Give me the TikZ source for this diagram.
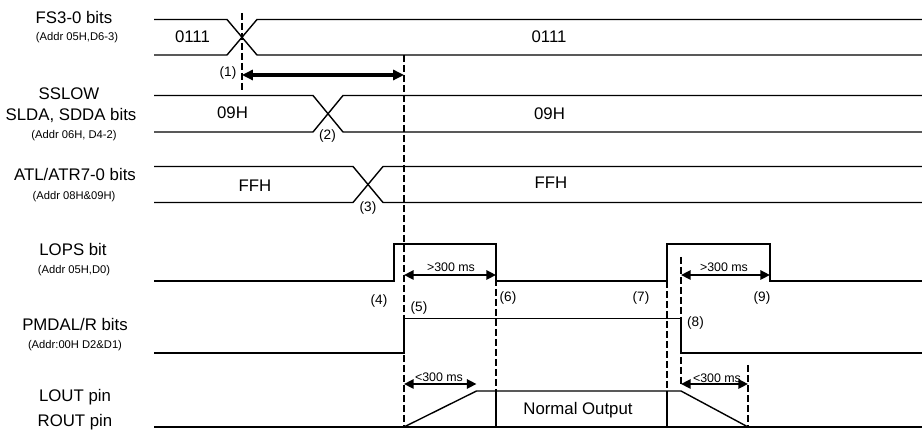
\documentclass[tikz,border=0pt]{standalone}
\usepackage{fontspec}
\setmainfont{Liberation Sans}
\usetikzlibrary{arrows.meta}
\tikzset{
    sig/.style={line width=0.7pt},
    marker/.style={line width=1.1pt, dash pattern=on 3.5pt off 1.5pt},
    span/.style={line width=1.1pt, {Triangle[length=4.8pt,width=4.6pt]}-{Triangle[length=4.8pt,width=4.6pt]}},
    signame/.style={font=\fontsize{8.4}{9}\selectfont, inner sep=0pt},
    addr/.style={font=\fontsize{5.6}{6}\selectfont, inner sep=0pt},
    num/.style={font=\fontsize{6.8}{7}\selectfont, inner sep=0pt},
    mslabel/.style={font=\fontsize{6.2}{7}\selectfont, inner sep=0pt}
}
\begin{document}
    \begin{tikzpicture}[x=0.5pt, y=-0.5pt]
        \useasboundingbox (0,0) rectangle (922,431);
        \foreach \yt/\yb/\xc in {19.5/55/242, 95.5/132/328, 166.5/202.5/368}{%
            \draw[sig] (154,\yt) -- (\xc-15,\yt) -- (\xc+15,\yb) -- (922,\yb);%
            \draw[sig] (154,\yb) -- (\xc-15,\yb) -- (\xc+15,\yt) -- (922,\yt);%
        }
        \draw[sig] (154,281) -| (394,244) -| (496,281) -| (667,244) -| (770,281) -- (922,281);
        \draw[sig] (154,353) -| (404,318.5) -| (681,353) -- (922,353);
        \draw[sig] (154,427) -- (922,427);
        \draw[sig] (404,427) -- (476.5,391) -- (681,391) -- (748,427);
        \draw[sig] (496,391) -- (496,427);
        \draw[sig] (667,391) -- (667,427);
        \draw[marker] (242,13) -- (242,92);
        \draw[marker] (404,55) -- (404,427);
        \draw[marker] (496,279) -- (496,391);
        \draw[marker] (667,281) -- (667,391);
        \draw[marker] (681,257) -- (681,386);
        \draw[marker] (748,365) -- (748,427);
        \coordinate (fschg) at (242,75);
        \coordinate (lopsup) at (404,75);
        \coordinate (ondel) at (404,275);
        \coordinate (lopsdn) at (496,275);
        \coordinate (offdel) at (681,275);
        \coordinate (lopsdn2) at (770,275);
        \coordinate (rampup) at (404,384);
        \coordinate (rampupend) at (476.5,384);
        \coordinate (rampdn) at (681,384);
        \coordinate (rampdnend) at (748,384);
        \draw[span, line width=1.6pt, {Triangle[length=5.4pt,width=5pt]}-{Triangle[length=5.4pt,width=5pt]}] (fschg) -- (lopsup);
        \draw[span] (ondel) -- (lopsdn);
        \draw[span] (offdel) -- (lopsdn2);
        \draw[span] (rampup) -- (rampupend);
        \draw[span] (rampdn) -- (rampdnend);
        \node[signame, anchor=base] (fsname) at (74,24) {FS3-0 bits};
        \node[addr, anchor=base] (fsaddr) at (77,41) {(Addr 05H,D6-3)};
        \node[signame, anchor=base] (sslow) at (69,100) {SSLOW};
        \node[signame, anchor=base] (sldaname) at (71,121) {SLDA, SDDA bits};
        \node[addr, anchor=base] (sldaaddr) at (74,139) {(Addr 06H, D4-2)};
        \node[signame, anchor=base] (atlname) at (75,181) {ATL/ATR7-0 bits};
        \node[addr, anchor=base] (atladdr) at (74,200) {(Addr 08H\&09H)};
        \node[signame, anchor=base] (lopsname) at (73,256) {LOPS bit};
        \node[addr, anchor=base] (lopsaddr) at (74,274) {(Addr 05H,D0)};
        \node[signame, anchor=base] (pmdname) at (75,331) {PMDAL/R bits};
        \node[addr, anchor=base] (pmdaddr) at (75,349) {(Addr:00H D2\&D1)};
        \node[signame, anchor=base] (loutname) at (75,402) {LOUT pin};
        \node[signame, anchor=base] (routname) at (75,427) {ROUT pin};
        \node[signame] (fsold) at (192.5,37) {0111};
        \node[signame] (fsnew) at (549,36.5) {0111};
        \node[signame] (slold) at (232.5,113) {09H};
        \node[signame] (slnew) at (549.5,113.5) {09H};
        \node[signame] (atold) at (255,186) {FFH};
        \node[signame] (atnew) at (551,183) {FFH};
        \node[signame, anchor=base] (normal) at (578,415) {Normal Output};
        \node[num] (n1) at (228,73) {(1)};
        \node[num] (n2) at (327.5,136) {(2)};
        \node[num] (n3) at (368,208) {(3)};
        \node[num] (n4) at (379,301) {(4)};
        \node[num] (n5) at (419,307.5) {(5)};
        \node[num] (n6) at (508,298) {(6)};
        \node[num] (n7) at (641,298) {(7)};
        \node[num] (n8) at (695.5,322.5) {(8)};
        \node[num] (n9) at (762,298) {(9)};
        \node[mslabel] (ms1) at (451,267) {>300 ms};
        \node[mslabel] (ms2) at (724,267) {>300 ms};
        \node[mslabel] (ms3) at (439,377) {<300 ms};
        \node[mslabel] (ms4) at (717,378) {<300 ms};
    \end{tikzpicture}
\end{document}
